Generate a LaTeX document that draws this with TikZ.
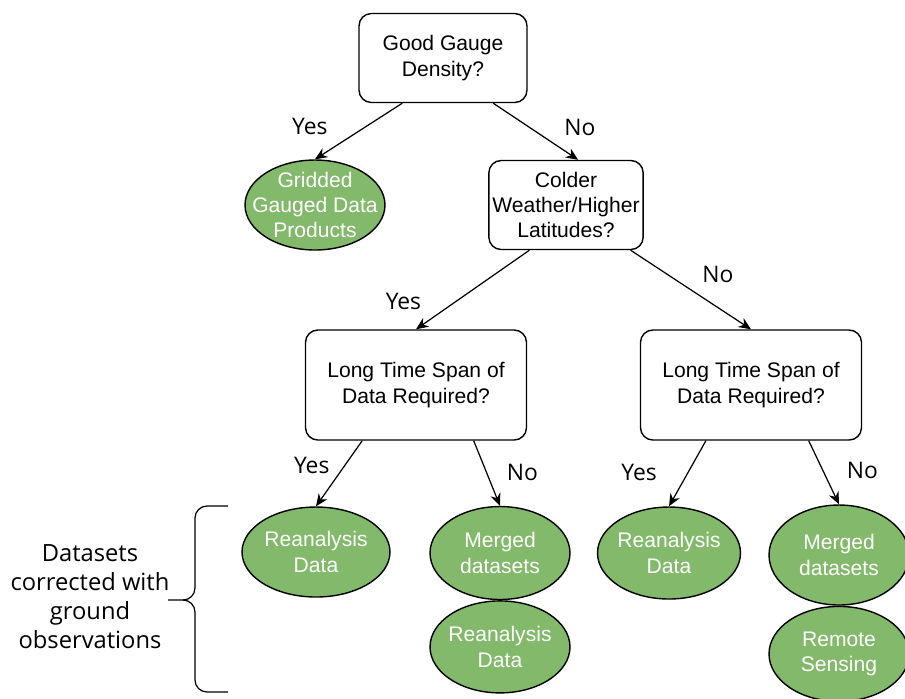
\documentclass[tikz,border=0pt]{standalone}
\usepackage{fontspec}
\setmainfont{Liberation Sans}
\newfontfamily\opensans{Open Sans}
\usetikzlibrary{positioning,arrows.meta,shapes.geometric}
\definecolor{leafgreen}{RGB}{130,185,106}

\begin{document}
\begin{tikzpicture}[x=0.02cm,y=-0.02cm,>={Stealth[length=7pt,width=6pt]},
   qbox/.style={draw,rounded corners=7pt,line width=0.8pt,align=center,
     inner xsep=2pt,font=\fontsize{12}{14.4}\selectfont},
   leaf/.style={ellipse,draw,line width=0.8pt,fill=leafgreen,text=white,
     align=center,inner xsep=-40pt,inner ysep=-25pt,
     font=\fontsize{12}{14.4}\selectfont},
   ans/.style={font=\opensans\fontsize{13}{15}\selectfont},
   link/.style={->,line width=0.7pt}]
  \useasboundingbox (0,0) rectangle (905,698);
  % questions
  \node (gauge) [qbox,minimum width=3.36cm,minimum height=1.78cm] at (443,58) {Good Gauge\\Density?};
  \node (colder) [qbox,minimum width=3.04cm,minimum height=1.78cm] at (566,205) {Colder\\Weather/Higher\\Latitudes?};
  \node (spanL) [qbox,minimum width=4.42cm,minimum height=2.2cm] at (416,385) {Long Time Span of\\Data Required?};
  \node (spanR) [qbox,minimum width=4.42cm,minimum height=2.2cm] at (751,385) {Long Time Span of\\Data Required?};
  % datasets
  \node (gridded) [leaf,minimum width=2.8cm,minimum height=1.8cm] at (315,205) {Gridded\\Gauged Data\\Products};
  \node (reanaL) [leaf,minimum width=2.96cm,minimum height=1.8cm] at (316,552) {Reanalysis\\Data};
  \node (mergedL) [leaf,minimum width=2.8cm,minimum height=1.86cm] at (500,553) {Merged\\datasets};
  \node (reanaLL) [leaf,minimum width=2.8cm,minimum height=1.84cm,below=0pt of mergedL] {Reanalysis\\Data};
  \node (reanaR) [leaf,minimum width=2.86cm,minimum height=1.84cm] at (669,553) {Reanalysis\\Data};
  \node (mergedR) [leaf,minimum width=2.8cm,minimum height=2cm] at (839,555) {Merged\\datasets};
  \node (remote) [leaf,minimum width=2.8cm,minimum height=1.9cm,below=0pt of mergedR] {Remote\\Sensing};
  % answers
  \draw[link] (gauge.-132) -- node[ans,pos=.42,left=18pt]{Yes} (gridded.north);
  \draw[link] (gauge.-42) -- node[ans,pos=.43,right=16pt]{No} (colder.75);
  \draw[link] (colder.-129) -- node[ans,pos=.65,left=16pt]{Yes} (spanL.north);
  \draw[link] (colder.-35) -- node[ans,pos=.31,right=16pt]{No} (spanR.north);
  \draw[link] (spanL.-134) -- node[ans,pos=.38,left=5pt]{Yes} (reanaL.north);
  \draw[link] (spanL.-44) -- node[ans,pos=.48,right=8pt]{No} (mergedL.north);
  \draw[link] (spanR.-129) -- node[ans,pos=.49,left=14pt]{Yes} (reanaR.north);
  \draw[link] (spanR.-44) -- node[ans,pos=.47,right=10pt]{No} (mergedR.north);
  % brace
  \node (note) [font=\opensans\fontsize{13.5}{16.5}\selectfont,align=center] at (90,597)
    {Datasets\\corrected with\\ground\\observations};
  \draw[line width=0.7pt] (228,506) -- (207,506) to[out=180,in=90] (195,518) -- (195,588)
    to[out=-90,in=0] (183,600) -- (168,600);
  \draw[line width=0.7pt] (183,600) to[out=0,in=90] (195,612) -- (195,680)
    to[out=-90,in=180] (207,692) -- (228,692);
\end{tikzpicture}
\end{document}
